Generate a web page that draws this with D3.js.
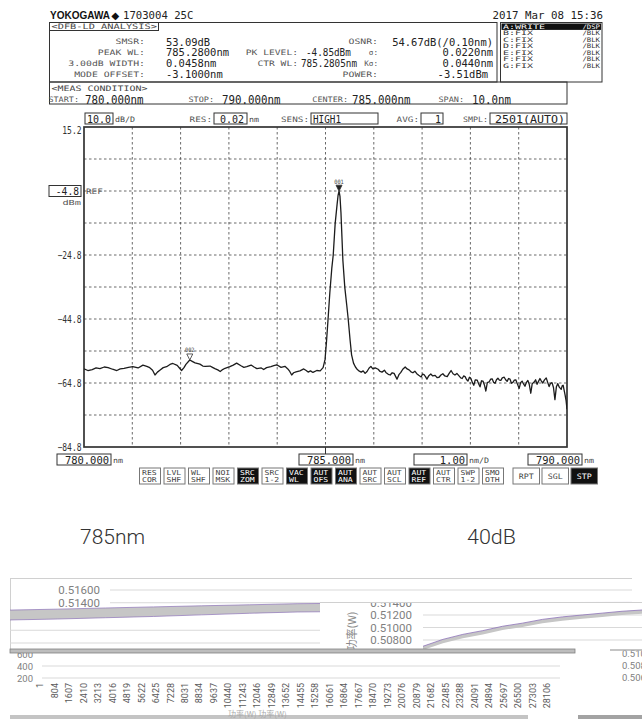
<!DOCTYPE html>
<html>
<head>
<meta charset="utf-8">
<script src="https://cdn.jsdelivr.net/npm/d3@7"></script>
<style>
  body { margin: 0; background: #fff; }
  text { font-family: "DejaVu Sans Mono", monospace; }
</style>
</head>
<body>
<div id="graph"></div>
<script>
var longueurs = [
  780.00, 780.08, 780.17, 780.25, 780.33, 780.42, 780.50, 780.59, 780.68, 780.75, 780.83, 780.92,
  781.01, 781.12, 781.22, 781.30, 781.35, 781.42, 781.47, 781.52, 781.57, 781.64, 781.71, 781.78,
  781.84, 781.93, 781.98, 782.02, 782.07, 782.11, 782.19, 782.25, 782.30, 782.40, 782.46, 782.51,
  782.61, 782.66, 782.71, 782.77, 782.82, 782.87, 782.92, 783.02, 783.09, 783.16, 783.25, 783.31,
  783.37, 783.46, 783.52, 783.58, 783.67, 783.72, 783.78, 783.87, 783.93, 783.99, 784.08, 784.16,
  784.22, 784.26, 784.30, 784.34, 784.39, 784.47, 784.55, 784.60, 784.64, 784.69, 784.74, 784.82,
  784.89, 784.95, 784.99, 785.02, 785.05, 785.09, 785.13, 785.16, 785.20, 785.24, 785.26, 785.28,
  785.30, 785.32, 785.34, 785.36, 785.40, 785.44, 785.47, 785.51, 785.54, 785.58, 785.62, 785.66,
  785.70, 785.74, 785.78, 785.82, 785.86, 785.90, 785.94, 785.98, 786.03, 786.09, 786.13, 786.17,
  786.22, 786.25, 786.30, 786.34, 786.38, 786.42, 786.48, 786.52, 786.56, 786.60, 786.65, 786.69,
  786.73, 786.77, 786.81, 786.85, 786.89, 786.93, 786.98, 787.01, 787.04, 787.07, 787.10, 787.14,
  787.18, 787.22, 787.27, 787.31, 787.35, 787.39, 787.43, 787.47, 787.52, 787.56, 787.60, 787.64,
  787.68, 787.72, 787.76, 787.80, 787.83, 787.86, 787.89, 787.92, 787.95, 787.98, 788.01, 788.04,
  788.07, 788.10, 788.14, 788.17, 788.20, 788.23, 788.26, 788.29, 788.32, 788.35, 788.39, 788.42,
  788.45, 788.48, 788.51, 788.54, 788.57, 788.60, 788.63, 788.66, 788.70, 788.73, 788.76, 788.79,
  788.82, 788.85, 788.88, 788.91, 788.94, 788.97, 789.01, 789.04, 789.07, 789.10, 789.13, 789.16,
  789.19, 789.22, 789.25, 789.28, 789.32, 789.35, 789.38, 789.41, 789.44, 789.47, 789.50, 789.53,
  789.57, 789.60, 789.63, 789.66, 789.69, 789.72, 789.75, 789.78, 789.81, 789.84, 789.88, 789.90,
  789.92, 789.94, 789.96, 789.98, 790.00
];
var niveaux = [
  -60.4, -60.9, -60.6, -60.1, -60.3, -59.8, -60.0, -60.5, -60.9, -60.4, -60.2, -59.9,
  -59.7, -60.1, -59.2, -59.6, -59.9, -60.8, -62.3, -61.4, -60.8, -60.0, -59.7, -59.0,
  -58.7, -59.3, -60.2, -60.9, -60.0, -59.0, -57.6, -58.1, -58.5, -58.9, -59.5, -59.6,
  -59.5, -59.9, -60.3, -60.7, -61.2, -60.6, -60.2, -59.7, -59.2, -58.6, -59.4, -59.9,
  -59.7, -59.2, -59.8, -60.3, -60.1, -60.6, -60.0, -59.7, -59.4, -59.1, -59.9, -59.6,
  -60.4, -61.2, -62.3, -61.6, -61.3, -61.0, -60.4, -60.9, -61.4, -61.0, -61.5, -60.9,
  -61.0, -60.0, -57.5, -52.0, -45.5, -36.5, -29.0, -24.8, -15.0, -9.0, -6.2, -4.85,
  -6.5, -11.5, -19.0, -26.5, -35.0, -40.5, -44.8, -51.5, -56.0, -58.6, -59.8, -60.6,
  -61.1, -61.4, -61.0, -61.8, -61.2, -60.2, -59.6, -60.4, -60.1, -60.5, -61.2, -61.4,
  -60.8, -61.5, -62.1, -62.3, -61.6, -61.8, -63.6, -62.2, -61.5, -60.5, -59.8, -60.4,
  -60.7, -61.3, -61.6, -61.1, -61.9, -62.4, -62.9, -62.0, -62.2, -62.8, -63.6, -62.5,
  -62.0, -62.6, -62.4, -63.1, -63.0, -62.3, -61.9, -62.6, -62.8, -61.8, -60.9, -61.9,
  -62.3, -61.8, -62.5, -63.2, -63.4, -62.6, -62.8, -63.7, -64.2, -63.0, -63.4, -64.6,
  -65.5, -63.8, -63.9, -65.0, -66.0, -64.1, -64.2, -65.4, -67.3, -64.7, -64.4, -63.6,
  -63.5, -64.6, -64.9, -63.8, -63.3, -63.9, -64.0, -63.2, -63.0, -63.8, -64.3, -63.4,
  -63.6, -64.9, -64.6, -63.9, -63.8, -65.0, -66.5, -64.7, -64.2, -65.1, -65.8, -64.6,
  -64.0, -65.3, -68.0, -65.0, -64.5, -63.8, -65.2, -64.3, -63.4, -64.2, -64.8, -63.9,
  -63.2, -64.6, -65.9, -64.9, -64.7, -66.2, -70.0, -66.0, -65.0, -66.1, -66.8, -65.7,
  -65.5, -67.0, -68.5, -70.2, -73.0
];

// Marqueurs posés sur la trace
var marqueurNoms = ["001", "002"];
var marqueurNm = [785.28, 782.19];
var marqueurDb = [-4.85, -57.6];
var marqueurPlein = [true, false];

// Graduations de l'écran
var etiquettesY = [15.2, -24.8, -44.8, -64.8, -84.8];
var niveauRef = -4.8;

// Textes de l'analyse DFB-LD
var analyseEtiquettes = ["SMSR:", "PEAK WL:", "3.00dB WIDTH:", "MODE OFFSET:"];
var analyseValeurs = ["53.09dB", "785.2800nm", "0.0458nm", "-3.1000nm"];
var milieuEtiquettes = ["", "PK LEVEL:", "CTR WL:", ""];
var milieuValeurs = ["", "-4.85dBm", "785.2805nm", ""];
var droiteEtiquettes = ["OSNR:", "σ:", "Kσ:", "POWER:"];
var droiteValeurs = ["54.67dB(/0.10nm)", "0.0220nm", "0.0440nm", "-3.51dBm"];
var traces = ["A:WRITE", "B:FIX", "C:FIX", "D:FIX", "E:FIX", "F:FIX", "G:FIX"];
var tracesEtat = ["/DSP", "/BLK", "/BLK", "/BLK", "/BLK", "/BLK", "/BLK"];
var mesureEtiquettes = ["START:", "STOP:", "CENTER:", "SPAN:"];
var mesureValeurs = ["780.000nm", "790.000nm", "785.000nm", "10.0nm"];

// Boutons du bas de l'écran
var boutonsHaut = ["RES", "LVL", "WL", "NOI", "SRC", "SRC", "VAC", "AUT", "AUT", "AUT", "AUT", "AUT", "AUT", "SWP", "SMO"];
var boutonsBas = ["COR", "SHF", "SHF", "MSK", "ZOM", "1-2", "WL", "OFS", "ANA", "SRC", "SCL", "REF", "CTR", "1-2", "OTH"];
var boutonsActifs = [0, 0, 0, 0, 1, 0, 1, 1, 1, 0, 0, 1, 0, 0, 0];
var boutonsDroite = ["RPT", "SGL", "STP"];
var boutonsDroiteActifs = [0, 0, 1];

// Fragments de graphiques de puissance (W) du bas
var puissanceAMax = [0.51285, 0.51300, 0.51318, 0.51335, 0.51352, 0.51368, 0.51385, 0.51392, 0.51396, 0.51398, 0.51400, 0.51402, 0.51404, 0.51405];
var puissanceAMin = [0.51130, 0.51145, 0.51165, 0.51185, 0.51210, 0.51235, 0.51255, 0.51262, 0.51268, 0.51272, 0.51276, 0.51280, 0.51282, 0.51285];
var puissanceBMax = [0.50700, 0.50810, 0.50890, 0.50950, 0.51020, 0.51070, 0.51130, 0.51170, 0.51200, 0.51230, 0.51260, 0.51280];
var puissanceBMin = [0.50640, 0.50750, 0.50830, 0.50890, 0.50960, 0.51010, 0.51070, 0.51110, 0.51140, 0.51170, 0.51200, 0.51220];
var ticksA = [0.516, 0.514];
var ticksB = [0.514, 0.512, 0.510, 0.508];
var ticksC = [600, 400, 200];
var ticksD = [0.510, 0.508, 0.506];
var echantillons = ["1", "804", "1607", "2410", "3213", "4016", "4819", "5622", "6425", "7228", "8031", "8834",
  "9637", "10440", "11243", "12046", "12849", "13652", "14455", "15258", "16061", "16864", "17667", "18470",
  "19273", "20076", "20879", "21682", "22485", "23288", "24091", "24894", "25697", "26500", "27303", "28106"];

var svg = d3.select("#graph").append("svg")
    .attr("width", 642)
    .attr("height", 719);

// petit utilitaire pour les textes de l'écran
function txt(g, x, y, s, taille, cw, o) {
  o = o || {};
  var t = g.append("text").attr("x", x).attr("y", y).attr("font-size", taille).text(s);
  if (cw) t.attr("textLength", s.length * cw).attr("lengthAdjust", "spacingAndGlyphs");
  if (o.len) t.attr("textLength", o.len).attr("lengthAdjust", "spacingAndGlyphs");
  if (o.anchor) t.attr("text-anchor", o.anchor);
  t.attr("fill", o.fill || "#222");
  if (o.family) t.style("font-family", o.family);
  if (o.weight) t.attr("font-weight", o.weight);
  return t;
}
function cadre(g, x, y, w, h, fond) {
  return g.append("rect").attr("x", x).attr("y", y).attr("width", w).attr("height", h)
    .attr("fill", fond || "none").attr("stroke", "#333").attr("stroke-width", 1);
}

// ---------- En-tête ----------
txt(svg, 50, 18.5, "YOKOGAWA", 10.5, null, {family: "Liberation Sans", weight: "bold", len: 60, fill: "#111"});
txt(svg, 111.5, 18.5, "◆", 10, null, {family: "DejaVu Sans", fill: "#111"});
txt(svg, 123, 18.5, "1703004 25C", 11, 6.4);
txt(svg, 603, 18.5, "2017 Mar 08 15:36", 11, 6.5, {anchor: "end"});

cadre(svg, 49.5, 22.5, 447.5, 59.5);
cadre(svg, 49.5, 22.5, 109, 8);
txt(svg, 51.5, 29.3, "<DFB-LD ANALYSIS>", 7.5, 6.2, {fill: "#444"});

var lignes = [41.7, 52.3, 63.3, 74];
lignes.forEach(function(cy, i) {
  txt(svg, 145, cy + 2.7, analyseEtiquettes[i], 7.5, 5.9, {anchor: "end", fill: "#555"});
  txt(svg, 166, cy + 3.8, analyseValeurs[i], 10.2, 6.3);
  if (milieuEtiquettes[i]) {
    txt(svg, 298, cy + 2.7, milieuEtiquettes[i], 7.5, 5.8, {anchor: "end", fill: "#555"});
    txt(svg, i == 1 ? 306 : 301, cy + 3.8, milieuValeurs[i], 10.2, 5.6);
  }
  var lab = droiteEtiquettes[i];
  txt(svg, 378, cy + 2.7, lab, 7.5, lab.length < 4 ? 4.6 : 5.9, {anchor: "end", fill: "#555"});
  txt(svg, i == 3 ? 488 : 493, cy + 3.8, droiteValeurs[i], 10.2, 6.3, {anchor: "end"});
});

// tableau des traces
cadre(svg, 500.5, 22.5, 101.5, 59.5);
svg.append("rect").attr("x", 501.5).attr("y", 23.5).attr("width", 99.5).attr("height", 6.4).attr("fill", "#111");
traces.forEach(function(t, i) {
  var cy = 26.7 + i * 6.45;
  var c = i == 0 ? "#fff" : "#333";
  txt(svg, 503, cy + 2.2, t, 6.2, 6.0, {fill: c});
  txt(svg, 600, cy + 2.2, tracesEtat[i], 6.2, 4.4, {anchor: "end", fill: c});
});

// conditions de mesure
cadre(svg, 49.5, 82, 517.5, 22);
txt(svg, 51.5, 90.8, "<MEAS CONDITION>", 7.5, 6.0, {fill: "#444"});
var mesureX = [[79, 85], [214, 222], [348, 352], [464, 472]];
mesureEtiquettes.forEach(function(e, i) {
  txt(svg, mesureX[i][0], 102, e, 7.5, 5.1, {anchor: "end", fill: "#555"});
  txt(svg, mesureX[i][1], 103.5, mesureValeurs[i], 11.5, 6.5);
});

// ligne de réglages au-dessus du graphique
cadre(svg, 85, 113, 28, 11, "#fff");
txt(svg, 111, 122.5, "10.0", 11, 6.0, {anchor: "end"});
txt(svg, 115, 121.5, "dB/D", 7.5, 5.0, {fill: "#444"});
txt(svg, 212, 121.5, "RES:", 7.5, 5.6, {anchor: "end", fill: "#555"});
cadre(svg, 214, 113, 33, 11, "#fff");
txt(svg, 244, 122.5, "0.02", 11, 6.0, {anchor: "end"});
txt(svg, 249, 121.5, "nm", 7.5, 5.0, {fill: "#444"});
txt(svg, 309, 121.5, "SENS:", 7.5, 5.6, {anchor: "end", fill: "#555"});
cadre(svg, 311, 113, 67, 11, "#fff");
txt(svg, 313, 122.5, "HIGH1", 11, 5.6);
txt(svg, 419, 121.5, "AVG:", 7.5, 5.6, {anchor: "end", fill: "#555"});
cadre(svg, 421, 113, 22, 11, "#fff");
txt(svg, 441, 122.5, "1", 11, 6.0, {anchor: "end"});
txt(svg, 488, 121.5, "SMPL:", 7.5, 5.0, {anchor: "end", fill: "#555"});
cadre(svg, 490, 113, 77, 11, "#fff");
txt(svg, 565, 122.5, "2501(AUTO)", 11, 7.0, {anchor: "end"});

// ---------- Graphique du spectre ----------
var gauche = 84, droite = 567, haut = 127, bas = 447;
var echelleX = d3.scaleLinear().domain([780, 790]).range([gauche, droite]);
var echelleY = d3.scaleLinear().domain([-84.8, 15.2]).range([bas, haut]);

var grilleX = d3.range(781, 790);
var grilleY = d3.range(1, 10).map(function(i) { return 15.2 - 10 * i; });

var grille = svg.append("g").attr("stroke", "#444").attr("stroke-width", 0.8).attr("stroke-dasharray", "2.5,2.5");
grille.selectAll(".gx").data(grilleX).enter().append("line")
  .attr("x1", function(d) { return echelleX(d); }).attr("x2", function(d) { return echelleX(d); })
  .attr("y1", haut).attr("y2", bas);
grille.selectAll(".gy").data(grilleY).enter().append("line")
  .attr("x1", gauche).attr("x2", droite)
  .attr("y1", function(d) { return echelleY(d); }).attr("y2", function(d) { return echelleY(d); });

svg.append("rect").attr("x", gauche).attr("y", haut).attr("width", droite - gauche).attr("height", bas - haut)
  .attr("fill", "none").attr("stroke", "#333").attr("stroke-width", 1.7);

// axe Y avec les valeurs lues
var axeY = d3.axisLeft(echelleY).tickValues(etiquettesY).tickSize(0).tickPadding(2.5)
  .tickFormat(d3.format(".1f"));
var gAxe = svg.append("g").attr("transform", "translate(" + gauche + ",0)").call(axeY);
gAxe.select(".domain").remove();
gAxe.selectAll("text")
  .style("font-family", "DejaVu Sans Mono").attr("font-size", 10).attr("fill", "#333")
  .attr("textLength", function() { return this.textContent.length * 4.8; })
  .attr("lengthAdjust", "spacingAndGlyphs")
  .attr("dy", function(d) { return d == 15.2 ? "0.65em" : "0.35em"; });

// niveau de référence
var yRef = echelleY(niveauRef);
cadre(svg, 49, yRef - 5.5, 32, 11, "#fff");
txt(svg, 79, yRef + 4, niveauRef.toFixed(1), 10.5, 5.8, {anchor: "end"});
txt(svg, 86, yRef + 2.6, "REF", 7.5, 5.6, {fill: "#555"});
txt(svg, 81, yRef + 14, "dBm", 7, 6.2, {anchor: "end", fill: "#555"});

// trace
var donnees = longueurs.map(function(l, i) { return {nm: l, db: niveaux[i]}; });
svg.append("clipPath").attr("id", "zone").append("rect")
  .attr("x", gauche).attr("y", haut).attr("width", droite - gauche).attr("height", bas - haut);
svg.append("path")
  .datum(donnees)
  .attr("clip-path", "url(#zone)")
  .attr("fill", "none")
  .attr("stroke", "#1c1c1c")
  .attr("stroke-width", 1.3)
  .attr("stroke-linejoin", "round")
  .attr("d", d3.line().x(function(d) { return echelleX(d.nm); }).y(function(d) { return echelleY(d.db); }));

// marqueurs
marqueurNoms.forEach(function(nom, i) {
  var mx = echelleX(marqueurNm[i]), my = echelleY(marqueurDb[i]);
  svg.append("path")
    .attr("d", "M" + (mx - 3) + "," + (my - 6) + "L" + (mx + 3) + "," + (my - 6) + "L" + mx + "," + my + "Z")
    .attr("fill", marqueurPlein[i] ? "#222" : "#fff").attr("stroke", "#333").attr("stroke-width", 0.8);
  txt(svg, mx, my - 7.5, nom, 6, 3.2, {anchor: "middle", fill: "#444"});
});

// ---------- Axe du bas ----------
svg.append("line").attr("x1", echelleX(785)).attr("x2", echelleX(785)).attr("y1", bas).attr("y2", 454)
  .attr("stroke", "#333");
var basBoites = [[57, 54, "780.000", "nm"], [299, 54, "785.000", "nm"], [414, 53, "1.00", "nm/D"], [528, 54, "790.000", "nm"]];
basBoites.forEach(function(b) {
  cadre(svg, b[0], 454, b[1], 11, "#fff");
  txt(svg, b[0] + b[1] - 2, 463.5, b[2], 11, 6.3, {anchor: "end"});
  txt(svg, b[0] + b[1] + 2, 462.5, b[3], 7.5, 5.0, {fill: "#444"});
});

// boutons
boutonsHaut.forEach(function(h, i) {
  var bx = 139.5 + i * 24.5;
  var actif = boutonsActifs[i];
  svg.append("rect").attr("x", bx).attr("y", 468).attr("width", 21).attr("height", 16)
    .attr("fill", actif ? "#111" : "#fff").attr("stroke", "#777").attr("stroke-width", 1);
  var c = actif ? "#fff" : "#444";
  txt(svg, bx + 2.5, 475, h, 6.8, 4.9, {fill: c});
  txt(svg, bx + 2.5, 482, boutonsBas[i], 6.8, 4.9, {fill: c});
});
boutonsDroite.forEach(function(b, j) {
  var bx = 513 + j * 29;
  var actif = boutonsDroiteActifs[j];
  svg.append("rect").attr("x", bx).attr("y", 468).attr("width", 26.5).attr("height", 16)
    .attr("fill", actif ? "#111" : "#fff").attr("stroke", "#777").attr("stroke-width", 1);
  txt(svg, bx + 13.25, 479, b, 7.5, 5.0, {anchor: "middle", fill: actif ? "#fff" : "#444"});
});

// ---------- Légendes ----------
txt(svg, 80, 543.5, "785nm", 21, null, {family: "Roboto", weight: 300, len: 65, fill: "#333"});
txt(svg, 467, 543.5, "40dB", 21, null, {family: "Roboto", weight: 300, len: 49, fill: "#333"});

// ---------- Fragments de graphiques de puissance ----------
var police = "Roboto, 'Noto Sans CJK SC'";

// panneau A
var xA = d3.scaleLinear().domain([0, puissanceAMax.length - 1]).range([10, 632]);
var yA = d3.scaleLinear().domain([0.508, 0.516]).range([641, 590]);
svg.append("line").attr("x1", 10).attr("x2", 632).attr("y1", 578.5).attr("y2", 578.5).attr("stroke", "#d0d0d0");
svg.append("line").attr("x1", 10.5).attr("x2", 10.5).attr("y1", 578).attr("y2", 650).attr("stroke", "#d0d0d0");
ticksA.forEach(function(t) {
  svg.append("line").attr("x1", 110).attr("x2", 632).attr("y1", yA(t)).attr("y2", yA(t)).attr("stroke", "#d9d9d9");
  txt(svg, 100, yA(t) + 4, t.toFixed(5), 11.5, null, {anchor: "end", family: police, fill: "#7f7f7f"});
});
[0.510, 0.508].forEach(function(t) {
  svg.append("line").attr("x1", 10).attr("x2", 320).attr("y1", yA(t) + 2).attr("y2", yA(t) + 2).attr("stroke", "#d9d9d9");
});
var idxA = d3.range(puissanceAMax.length);
svg.append("path").datum(idxA)
  .attr("fill", "#c6c6c6")
  .attr("d", d3.area().x(function(i) { return xA(i); })
    .y0(function(i) { return yA(puissanceAMin[i]); }).y1(function(i) { return yA(puissanceAMax[i]); }));
[puissanceAMax, puissanceAMin].forEach(function(s) {
  svg.append("path").datum(idxA).attr("fill", "none").attr("stroke", "#8d72b8").attr("stroke-width", 0.7)
    .attr("d", d3.line().x(function(i) { return xA(i); }).y(function(i) { return yA(s[i]); }));
});

// panneau B (posé par-dessus)
svg.append("clipPath").attr("id", "zoneB").append("rect").attr("x", 320).attr("y", 602.5).attr("width", 322).attr("height", 47);
var gB = svg.append("g").attr("clip-path", "url(#zoneB)");
gB.append("rect").attr("x", 320).attr("y", 602.5).attr("width", 322).attr("height", 47).attr("fill", "#fff");
svg.append("line").attr("x1", 320).attr("x2", 642).attr("y1", 602.5).attr("y2", 602.5).attr("stroke", "#d0d0d0");
var xB = d3.scaleLinear().domain([0, puissanceBMax.length - 1]).range([423, 642]);
var yB = d3.scaleLinear().domain([0.508, 0.512]).range([640, 615]);
ticksB.forEach(function(t) {
  gB.append("line").attr("x1", 423).attr("x2", 642).attr("y1", yB(t)).attr("y2", yB(t)).attr("stroke", "#d9d9d9");
  txt(gB, 412, yB(t) + 4, t.toFixed(5), 11.5, null, {anchor: "end", family: police, fill: "#7f7f7f"});
});
gB.append("text").attr("transform", "translate(356,631) rotate(-90)").attr("text-anchor", "middle")
  .attr("font-size", 11).attr("fill", "#8a8a8a").style("font-family", "'Noto Sans CJK SC'").text("功率(W)");
var idxB = d3.range(puissanceBMax.length);
gB.append("path").datum(idxB)
  .attr("fill", "#c6c6c6")
  .attr("d", d3.area().x(function(i) { return xB(i); })
    .y0(function(i) { return yB(puissanceBMin[i]); }).y1(function(i) { return yB(puissanceBMax[i]); }));
gB.append("path").datum(idxB).attr("fill", "none").attr("stroke", "#8d72b8").attr("stroke-width", 0.8)
  .attr("d", d3.line().x(function(i) { return xB(i); }).y(function(i) { return yB(puissanceBMax[i]); }));

// panneau C
var xC = d3.scalePoint().domain(echantillons).range([40, 547]);
var yC = d3.scaleLinear().domain([200, 600]).range([678, 654]);
ticksC.forEach(function(t) {
  if (t < 600) svg.append("line").attr("x1", 42).attr("x2", 560).attr("y1", yC(t)).attr("y2", yC(t)).attr("stroke", "#d9d9d9");
  txt(svg, 33, yC(t) + 3.5, String(t), 9.5, null, {anchor: "end", family: police, fill: "#7f7f7f"});
});
svg.selectAll(".echant").data(echantillons).enter().append("text")
  .attr("transform", function(d) { return "translate(" + xC(d) + ",683) rotate(-90)"; })
  .attr("text-anchor", "end").attr("dy", "0.35em")
  .attr("font-size", 9).attr("fill", "#595959").style("font-family", "Roboto")
  .text(function(d) { return d; });

// barre grise de séparation
svg.append("rect").attr("x", 10).attr("y", 649).attr("width", 565).attr("height", 4)
  .attr("fill", "#bdbdbd").attr("stroke", "#808080").attr("stroke-width", 0.8);

// panneau D (coin droit)
svg.append("line").attr("x1", 610).attr("x2", 642).attr("y1", 649.5).attr("y2", 649.5).attr("stroke", "#8a8a8a");
var yD = d3.scaleLinear().domain([0.506, 0.510]).range([677, 653]);
ticksD.forEach(function(t) {
  txt(svg, 622, yD(t) + 3.5, t.toFixed(5), 9.5, null, {family: police, fill: "#7f7f7f"});
});
svg.append("rect").attr("x", 610).attr("y", 647).attr("width", 32).attr("height", 3.5).attr("fill", "#fff");
svg.append("line").attr("x1", 610).attr("x2", 642).attr("y1", 650).attr("y2", 650).attr("stroke", "#8a8a8a");

// barres du bas
svg.append("rect").attr("x", 10).attr("y", 715).attr("width", 518).attr("height", 4).attr("fill", "#c4c4c4");
svg.append("rect").attr("x", 578).attr("y", 715).attr("width", 64).attr("height", 4).attr("fill", "#a3a3a3");
txt(svg, 228, 717, "功率(W)  功率(W)", 8, null, {family: "'Noto Sans CJK SC'", fill: "#aaa"});
</script>
</body>
</html>
